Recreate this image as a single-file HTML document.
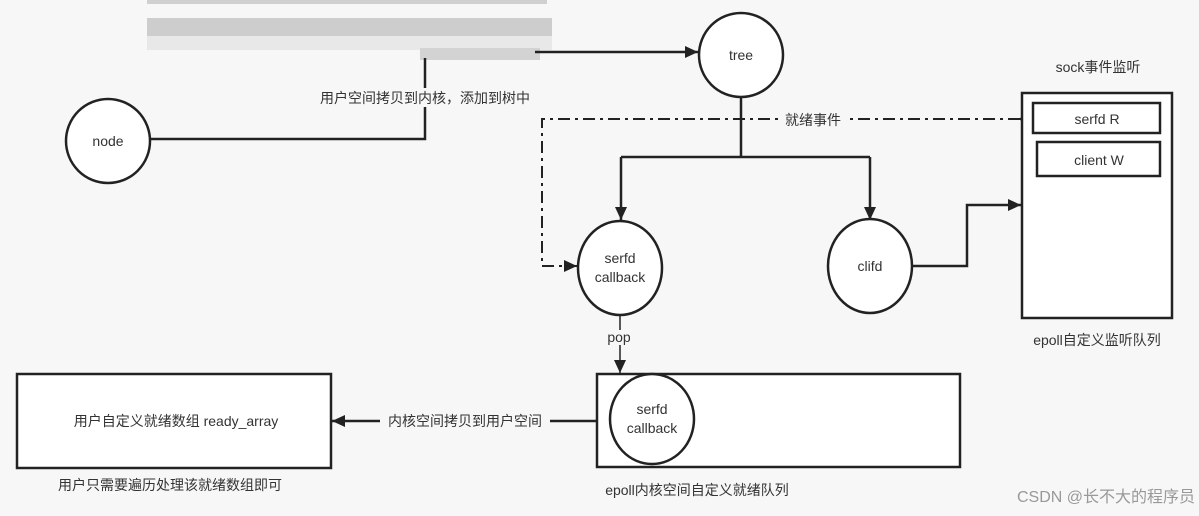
<!DOCTYPE html>
<html><head><meta charset="utf-8"><style>
html,body{margin:0;padding:0;background:#f7f7f7;}
svg{display:block;}
text{font-family:"Liberation Sans","Noto Sans CJK SC",sans-serif;font-size:14px;fill:#333;}
</style></head><body>
<svg width="1199" height="516" viewBox="0 0 1199 516" xmlns="http://www.w3.org/2000/svg">
<defs><marker id="a" markerWidth="14" markerHeight="14" refX="13" refY="6" orient="auto" markerUnits="userSpaceOnUse"><path d="M0,0 L13,6 L0,12 z" fill="#222"/></marker></defs>
<rect width="1199" height="516" fill="#f7f7f7"/>
<rect x="147" y="18" width="405" height="18" fill="#cdcdcd"/>
<rect x="147" y="36" width="405" height="14" fill="#e8e8e8"/>
<rect x="420" y="48" width="120" height="12" fill="#d3d3d3"/>
<rect x="147" y="0" width="400" height="4" fill="#d0d0d0"/>
<g stroke="#222" stroke-width="2.5" fill="none">
<path d="M150,139 H425 V58"/>
<path d="M535,52 H698" marker-end="url(#a)"/>
<path d="M741,97 V157 M621,157 H870" />
<path d="M621,157 V220" marker-end="url(#a)"/>
<path d="M870,157 V220" marker-end="url(#a)"/>
<path d="M912,266 H967 V205 H1021" marker-end="url(#a)"/>
<path d="M1033,119 H1020" />
<path d="M1020,119 H542 V266 H577" stroke-dasharray="12,5,3,5" stroke-width="2" marker-end="url(#a)"/>
<path d="M620,316 V330 M620,345 V373" stroke-width="1.5" marker-end="url(#a)"/>
<path d="M597,421 H332" marker-end="url(#a)"/>
</g>
<g stroke="#222" stroke-width="2.5" fill="#fff">
<circle cx="741" cy="55" r="42"/>
<circle cx="108" cy="141" r="42"/>
<ellipse cx="620" cy="268" rx="42" ry="47"/>
<ellipse cx="870" cy="266" rx="42" ry="47"/>
<rect x="1022" y="93" width="150" height="225"/>
<rect x="1033" y="103" width="127" height="30"/>
<rect x="1037" y="142" width="123" height="34"/>
<rect x="597" y="374" width="363" height="93"/>
<ellipse cx="652" cy="419" rx="42" ry="45"/>
<rect x="17" y="374" width="314" height="94"/>
</g>
<g text-anchor="middle">
<rect x="305" y="88" width="240" height="19" fill="#f7f7f7"/>
<text x="425" y="103">用户空间拷贝到内核，添加到树中</text>
<text x="741" y="60">tree</text>
<text x="108" y="146">node</text>
<rect x="780" y="111" width="65" height="18" fill="#f7f7f7"/>
<text x="813" y="125">就绪事件</text>
<text x="620" y="263">serfd</text>
<text x="620" y="282">callback</text>
<text x="870" y="271">clifd</text>
<text x="1098" y="72">sock事件监听</text>
<text x="1097" y="124">serfd R</text>
<text x="1099" y="165">client W</text>
<text x="1097" y="345">epoll自定义监听队列</text>
<text x="619" y="342">pop</text>
<text x="652" y="414">serfd</text>
<text x="652" y="433">callback</text>
<text x="697" y="495">epoll内核空间自定义就绪队列</text>
<rect x="380" y="412" width="170" height="19" fill="#f7f7f7"/>
<text x="465" y="426">内核空间拷贝到用户空间</text>
<text x="176" y="426">用户自定义就绪数组 ready_array</text>
<text x="170" y="490">用户只需要遍历处理该就绪数组即可</text>
<text x="1106" y="502" style="font-size:16px;fill:#999">CSDN @长不大的程序员</text>
</g>
</svg>
</body></html>
